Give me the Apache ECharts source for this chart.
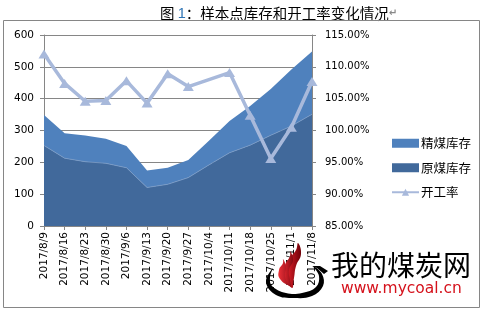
<!DOCTYPE html>
<html>
<head>
<meta charset="utf-8">
<script src="https://cdn.jsdelivr.net/npm/echarts@6/dist/echarts.min.js"></script>
<style>html,body{margin:0;padding:0;background:#fff;}#c{width:484px;height:312px;}</style>
</head>
<body>
<div id="c"></div>
<script>
var categories = ['2017/8/9','2017/8/16','2017/8/23','2017/8/30','2017/9/6','2017/9/13','2017/9/20','2017/9/27','2017/10/4','2017/10/11','2017/10/18','2017/10/25','2017/11/1','2017/11/8'];
var rawCoal = [253,213,202,197,183,121,131,152,192,230,254,285,314,351];
var cleanCoal = [96,78,82,77,68,53,52,55,76,100,123,145,178,197];
var operatingRate = [112.0,107.4,104.6,104.7,107.8,104.3,108.9,106.9,null,109.1,102.4,95.6,100.5,107.7];
var seriesNames = ['精煤库存','原煤库存','开工率'];

var chart = echarts.init(document.getElementById('c'), null, {renderer:'canvas'});
var gray = '#868686';
var numFont = 'DejaVu Sans';
var cjk = '"Noto Sans CJK SC"';
function grad(c1, c2) {
  return {type: 'linear', x: 0, y: 0, x2: 1, y2: 0, colorStops: [{offset: 0, color: c1}, {offset: 1, color: c2}]};
}
chart.setOption({
  animation: false,
  backgroundColor: '#fff',
  title: {
    left: 155, top: 1,
    text: '{a|图 }{b|1}{a|：样本点库存和开工率变化情况}{c|↵}',
    textStyle: {
      rich: {
        a: {fontSize: 14.5, fontFamily: cjk, fontWeight: 'normal', color: '#000'},
        b: {fontSize: 14.5, fontFamily: 'Liberation Sans', fontWeight: 'normal', color: '#2E74B5'},
        c: {fontSize: 10, fontFamily: numFont, color: '#888'}
      }
    }
  },
  grid: {left: 44, right: 172, top: 35, bottom: 86},
  legend: {
    orient: 'vertical', left: 386, top: 132,
    itemWidth: 27, itemHeight: 9, itemGap: 12,
    textStyle: {fontSize: 12.5, fontFamily: cjk, color: '#000', padding: [0,0,0,-3]},
    data: [
      {name: seriesNames[0], icon: 'rect'},
      {name: seriesNames[1], icon: 'rect'},
      {name: seriesNames[2]}
    ]
  },
  xAxis: {
    type: 'category', data: categories, boundaryGap: false,
    axisLine: {lineStyle: {color: gray}},
    axisTick: {length: 4, lineStyle: {color: gray}},
    axisLabel: {rotate: 90, interval: 0, fontSize: 10.5, fontFamily: numFont, color: '#000', margin: 6}
  },
  yAxis: [
    {
      type: 'value', min: 0, max: 600, interval: 100,
      axisLine: {show: true, lineStyle: {color: gray}},
      axisTick: {show: true, length: 4, lineStyle: {color: gray}},
      splitLine: {lineStyle: {color: gray, width: 1}},
      axisLabel: {fontSize: 10.5, fontFamily: numFont, color: '#000', margin: 10}
    },
    {
      type: 'value', min: 85, max: 115, interval: 5, position: 'right',
      axisLine: {show: true, lineStyle: {color: gray}},
      axisTick: {show: true, length: 4, lineStyle: {color: gray}},
      splitLine: {show: false},
      axisLabel: {fontSize: 10, fontFamily: numFont, color: '#000', margin: 13,
        formatter: function(v){ return v.toFixed(2) + '%'; }}
    }
  ],
  series: [
    {
      name: seriesNames[1], type: 'line', stack: 'coal', data: rawCoal,
      symbol: 'none', itemStyle: {color: '#41699B'},
      lineStyle: {width: 0.8, color: '#7A9CC8'},
      areaStyle: {color: '#41699B', opacity: 1}, z: 2
    },
    {
      name: seriesNames[0], type: 'line', stack: 'coal', data: cleanCoal,
      symbol: 'none', itemStyle: {color: '#4F81BD'},
      lineStyle: {width: 0},
      areaStyle: {color: '#4F81BD', opacity: 1}, z: 1
    },
    {
      name: seriesNames[2], type: 'line', yAxisIndex: 1, data: operatingRate,
      connectNulls: true, symbol: 'triangle', symbolSize: [11, 9], showSymbol: true,
      itemStyle: {color: '#A8B9DB'},
      lineStyle: {width: 3.5, color: '#A8B9DB'}, z: 5
    }
  ],
  graphic: [
    {type: 'rect', shape: {x: 3.5, y: 20.5, width: 476, height: 287}, style: {fill: 'none', stroke: gray, lineWidth: 1}, z: 100},
    {type: 'polygon', z: 101, shape: {smooth: 0.4, points: [[273,268],[266,282],[276,295],[294,298],[312,296],[323,286],[322,274],[313,266],[319,276],[316,287],[302,293],[286,293],[272,286],[270,277]]}, style: {fill: '#000'}},
    {type: 'polygon', z: 102, shape: {points: [[312,266],[320,266],[328,271],[324,274],[317,268]]}, style: {fill: '#000'}},
    {type: 'polygon', z: 103, shape: {smooth: 0.5, points: [[292,288],[286,275],[288,261],[296,250],[298,243],[301,254],[296,266],[294,278]]}, style: {fill: grad('#e8232c', '#6e0008')}},
    {type: 'polygon', z: 104, shape: {smooth: 0.5, points: [[291,287],[283,277],[285,265],[290,256],[290,251],[293,260],[289,270],[290,280]]}, style: {fill: grad('#ea2a32', '#820a12')}},
    {type: 'polygon', z: 105, shape: {smooth: 0.5, points: [[290,286],[280,279],[279,270],[283,263],[283,259],[286,267],[285,275],[287,282]]}, style: {fill: grad('#ec3038', '#94101a')}},
    {type: 'text', z: 106, left: 331, top: 251, style: {text: '我的煤炭网', fontSize: 28, fontFamily: cjk, fill: '#000'}},
    {type: 'text', z: 106, left: 341, top: 281, style: {text: 'www.mycoal.cn', fontSize: 15.5, fontFamily: numFont, fill: '#D5121C'}}
  ]
});
</script>
</body>
</html>
